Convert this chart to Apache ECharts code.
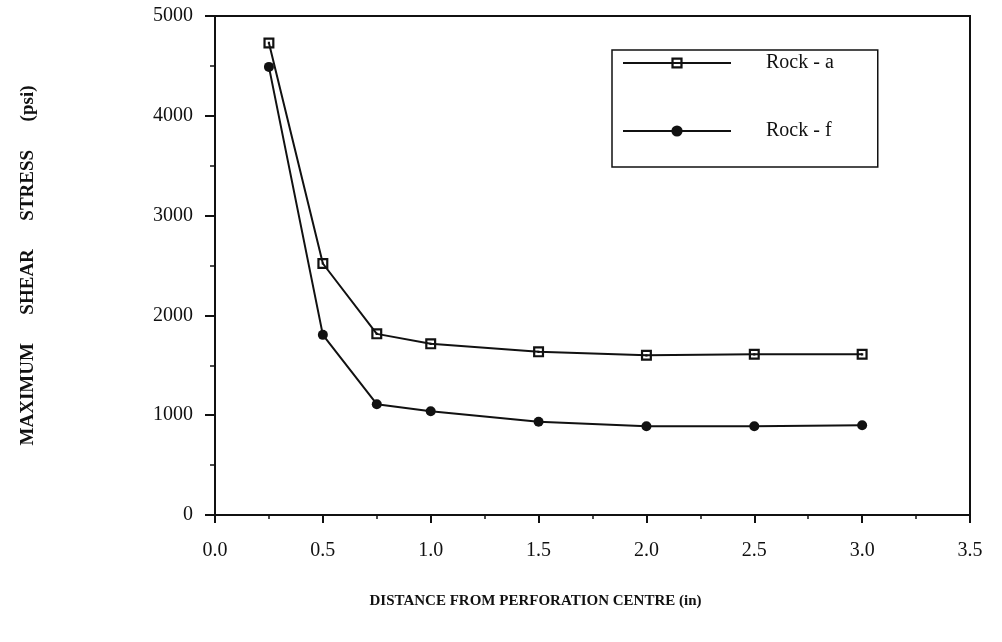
<!DOCTYPE html>
<html>
<head>
<meta charset="utf-8">
<script src="https://cdn.jsdelivr.net/npm/echarts@6/dist/echarts.min.js"></script>
<style>
	html, body { margin: 0; padding: 0; background: #fff; }
	#chart { width: 1002px; height: 642px; }
</style>
</head>
<body>
<div id="chart"></div>
<script>
// distances from perforation centre (in)
const distances = [0.25, 0.5, 0.75, 1.0, 1.5, 2.0, 2.5, 3.0];
// max shear stress (psi)
const rockA = [4730, 2520, 1815, 1715, 1635, 1600, 1610, 1610];
const rockF = [4490, 1805, 1110, 1040, 935, 890, 890, 900];

const seriesNames = ['Rock - a', 'Rock - f'];

const ink = '#111';
const serif = '"Liberation Serif", "Times New Roman", serif';

// open square with a dot in the middle
const squareDot = 'path://M0,0H10V10H0Z M2,2V8H8V2Z M4,4H6V6H4Z';

const pairs = (xs, ys) => xs.map((x, i) => [x, ys[i]]);

const getOption = () => {
	return {
		animation: false,
		grid: {
			left: 215,
			right: 32,
			top: 16,
			bottom: 127,
			show: true,
			borderColor: ink,
			borderWidth: 2
		},
		legend: {
			data: seriesNames,
			orient: 'vertical',
			left: 612,
			top: 50,
			padding: [3, 44, 26, 10],
			itemWidth: 108,
			itemHeight: 14,
			itemGap: 48,
			borderColor: ink,
			borderWidth: 1.5,
			textStyle: {
				fontFamily: serif,
				fontSize: 20,
				color: ink,
				padding: [0, 0, 0, 30]
			}
		},
		xAxis: {
			type: 'value',
			min: 0,
			max: 3.5,
			interval: 0.5,
			name: 'DISTANCE FROM PERFORATION CENTRE (in)',
			nameLocation: 'middle',
			nameGap: 79,
			nameTextStyle: {
				fontFamily: serif,
				fontWeight: 'bold',
				fontSize: 15,
				color: ink,
				padding: [0, 114, 0, 0]
			},
			axisLine: { onZero: false, lineStyle: { color: ink, width: 2 } },
			axisTick: { length: 8, lineStyle: { color: ink, width: 2 } },
			minorTick: { show: true, splitNumber: 2, length: 4, lineStyle: { color: ink, width: 1.5 } },
			splitLine: { show: false },
			axisLabel: {
				margin: 26,
				fontFamily: serif,
				fontSize: 20,
				color: ink,
				formatter: v => v.toFixed(1)
			}
		},
		yAxis: {
			type: 'value',
			min: 0,
			max: 5000,
			interval: 1000,
			name: 'MAXIMUM      SHEAR      STRESS      (psi)',
			nameLocation: 'middle',
			nameGap: 177,
			nameRotate: 90,
			nameTextStyle: {
				fontFamily: serif,
				fontWeight: 'bold',
				fontSize: 19,
				color: ink
			},
			axisLine: { show: true, lineStyle: { color: ink, width: 2 } },
			axisTick: { show: true, length: 10, lineStyle: { color: ink, width: 2 } },
			minorTick: { show: true, splitNumber: 2, length: 5, lineStyle: { color: ink, width: 1.5 } },
			splitLine: { show: false },
			axisLabel: {
				margin: 22,
				fontFamily: serif,
				fontSize: 20,
				color: ink,
				formatter: v => String(v)
			}
		},
		series: [
			{
				name: seriesNames[0],
				type: 'line',
				data: pairs(distances, rockA),
				symbol: squareDot,
				symbolSize: 11,
				itemStyle: { color: ink },
				lineStyle: { color: ink, width: 2 },
				z: 3
			},
			{
				name: seriesNames[1],
				type: 'line',
				data: pairs(distances, rockF),
				symbol: 'circle',
				symbolSize: 10,
				itemStyle: { color: ink },
				lineStyle: { color: ink, width: 2 },
				z: 2
			}
		]
	};
};

const chart = echarts.init(document.getElementById('chart'));
chart.setOption(getOption());
</script>
</body>
</html>
